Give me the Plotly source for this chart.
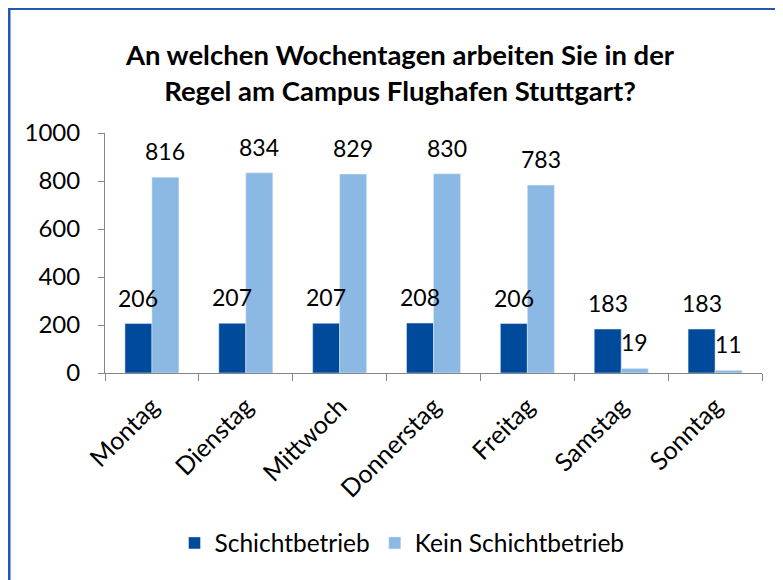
import plotly.graph_objects as go

categories = ["Montag", "Dienstag", "Mittwoch", "Donnerstag", "Freitag", "Samstag", "Sonntag"]
schicht = [206, 207, 207, 208, 206, 183, 183]
kein_schicht = [816, 834, 829, 830, 783, 19, 11]
series_names = ["Schichtbetrieb", "Kein Schichtbetrieb"]
y_ticks = [0, 200, 400, 600, 800, 1000]

DARK = "#004A9B"
LIGHT = "#8CB9E3"
FONT = "Lato"

fig = go.Figure()
fig.add_trace(go.Bar(x=categories, y=schicht, name=series_names[0], marker_color=DARK))
fig.add_trace(go.Bar(x=categories, y=kein_schicht, name=series_names[1], marker_color=LIGHT))

annotations = []
for vals, shift in ((schicht, -13.5), (kein_schicht, 13.5)):
    for c, v in zip(categories, vals):
        annotations.append(dict(x=c, y=v, text=str(v), showarrow=False, xshift=shift, yshift=26,
                                yanchor="middle", font=dict(family=FONT, size=23, color="#000")))

# page body has an 8px margin: positions below are window pixels minus that offset
OFF = 8
W, H = 783, 580
L, R, T, B = 105 - OFF, W - (762 - OFF), 133 - OFF, H - (373 - OFF)
pw, ph = W - L - R, H - T - B
def px(x): return (x - OFF - L) / pw
def py(y): return (H - B - (y - OFF)) / ph

fig.update_layout(
    width=W, height=H,
    margin=dict(l=L, r=R, t=T, b=B, autoexpand=False),
    paper_bgcolor="white", plot_bgcolor="white",
    barmode="group", bargap=0.425, bargroupgap=0,
    title=dict(text="<b>An welchen Wochentagen arbeiten Sie in der<br>Regel am Campus Flughafen Stuttgart?</b>",
               x=(400 - OFF) / W, xanchor="center", y=1 - (65 - OFF) / H, yanchor="middle",
               font=dict(family=FONT, size=27.5, color="#000")),
    font=dict(family=FONT, size=23, color="#000"),
    showlegend=True,
    legend=dict(orientation="h", x=px(402), xanchor="center", y=py(543), yanchor="middle",
                font=dict(family=FONT, size=24.5, color="#000"), itemwidth=30, traceorder="normal"),
    annotations=annotations,
    shapes=[dict(type="path", xref="paper", yref="paper",
                 path=f"M {px(9)} {py(600)} L {px(9)} {py(8.5)} L {px(800)} {py(8.5)}",
                 line=dict(color="#2059B0", width=3))],
)
fig.update_xaxes(showline=True, linecolor="#868686", linewidth=1, ticks="outside", tickson="boundaries",
                 ticklen=7, tickcolor="#868686", tickangle=-45, automargin=False, ticklabelstandoff=8,
                 tickfont=dict(family=FONT, size=25))
fig.update_yaxes(range=[0, 1000], tickvals=y_ticks, showline=True, linecolor="#868686", linewidth=1,
                 ticks="outside", ticklen=6, tickcolor="#868686", showgrid=False, zeroline=False,
                 automargin=False, ticklabelstandoff=13, tickfont=dict(family=FONT, size=24))

fig.write_html("out.html")
